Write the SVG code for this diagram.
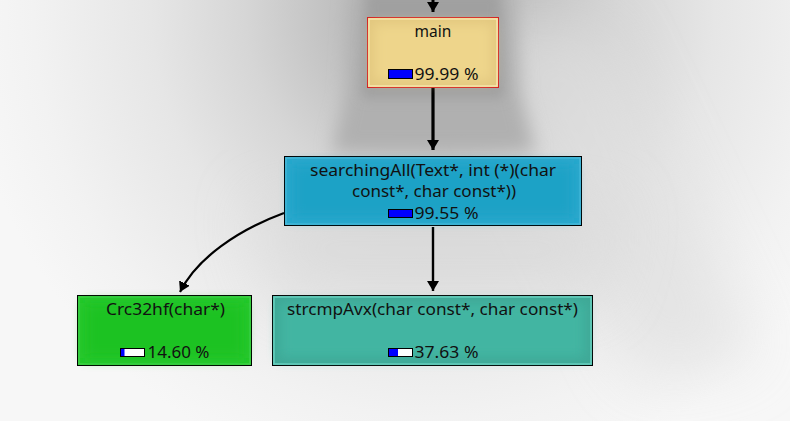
<svg xmlns="http://www.w3.org/2000/svg" width="790" height="421" viewBox="0 0 790 421">
<defs>
<radialGradient id="bg" cx="433" cy="10" r="470" gradientUnits="userSpaceOnUse" gradientTransform="translate(433 10) scale(1 1.02) translate(-433 -10)">
<stop offset="0" stop-color="#a6a6a6"/>
<stop offset="0.2" stop-color="#bfbfbf"/>
<stop offset="0.4" stop-color="#d6d6d6"/>
<stop offset="0.6" stop-color="#e6e6e6"/>
<stop offset="0.85" stop-color="#f2f2f2"/>
<stop offset="1" stop-color="#f7f7f7"/>
</radialGradient>
<filter id="blurL" x="-50%" y="-50%" width="200%" height="200%"><feGaussianBlur stdDeviation="30"/></filter>
<filter id="blurM" x="-50%" y="-50%" width="200%" height="200%"><feGaussianBlur stdDeviation="9"/></filter>
<filter id="blurS" x="-50%" y="-50%" width="200%" height="200%"><feGaussianBlur stdDeviation="6"/></filter>
<marker id="ah" viewBox="0 0 10 12" refX="10" refY="6" markerWidth="10" markerHeight="12" markerUnits="userSpaceOnUse" orient="auto">
<path d="M0,0 L10,6 L0,12 z" fill="#000"/>
</marker>
</defs>
<style>
.t{font-family:"Noto Sans","DejaVu Sans",sans-serif;font-size:15.5px;fill:#111;}
.bar{stroke:#000;stroke-width:1;}
.e{stroke:#000;fill:none;}
</style>
<rect width="790" height="421" fill="#f7f7f7"/>
<rect width="790" height="421" fill="url(#bg)"/>
<polygon points="460,20 600,20 760,360 640,380" fill="#e0e0e0" opacity="0.7" filter="url(#blurL)"/>
<polygon points="250,200 620,200 600,300 280,300" fill="#d8d8d8" opacity="0.6" filter="url(#blurL)"/>
<polygon points="352,-10 514,-10 520,95 535,152 332,152 346,95" fill="#b0b0b0" filter="url(#blurM)"/>
<polygon points="366,-10 500,-10 504,98 362,98" fill="#a0a0a0" filter="url(#blurS)"/>

<g id="connectors">
<line class="e" x1="433" y1="-2" x2="433" y2="12" stroke-width="3" marker-end="url(#ah)"/>
<line class="e" x1="433" y1="88" x2="433" y2="150" stroke-width="3.2" marker-end="url(#ah)"/>
<line class="e" x1="433" y1="227" x2="433" y2="291" stroke-width="2.4" marker-end="url(#ah)"/>
<path class="e" d="M284,213 C238,230 197,258 180,292" stroke-width="2.2" marker-end="url(#ah)"/>
</g>

<g id="node-main">
<rect x="367.5" y="17.5" width="131" height="70" fill="#e2c77f" stroke="#d42020" stroke-width="1"/>
<rect x="369" y="19" width="128" height="67" fill="none" stroke="#f8e7b0" stroke-width="1.5"/>
<rect x="374" y="24" width="118" height="57" fill="#eed58b" filter="url(#blurS)"/>
<text class="t" x="433" y="37" text-anchor="middle">main</text>
<rect class="bar" x="388.5" y="69.5" width="24" height="9" fill="#0000ff"/>
<text class="t" x="414.5" y="80" textLength="64" lengthAdjust="spacingAndGlyphs">99.99 %</text>
</g>

<g id="node-searchingAll">
<rect x="284.5" y="156.5" width="297" height="69" fill="#2aa8cd" stroke="#000" stroke-width="1"/>
<rect x="286" y="158" width="294" height="66" fill="none" stroke="#4bb8d8" stroke-width="1.5"/>
<rect x="292" y="164" width="282" height="54" fill="#1fa2c6" filter="url(#blurS)"/>
<text class="t" x="310" y="176" textLength="246" lengthAdjust="spacingAndGlyphs">searchingAll(Text*, int (*)(char</text>
<text class="t" x="352" y="197" textLength="164" lengthAdjust="spacingAndGlyphs">const*, char const*))</text>
<rect class="bar" x="388.5" y="209.5" width="24" height="8" fill="#0000ff"/>
<text class="t" x="414.5" y="219" textLength="64" lengthAdjust="spacingAndGlyphs">99.55 %</text>
</g>

<g id="node-crc32hf">
<rect x="77.5" y="295.5" width="174" height="70" fill="#25c82c" stroke="#000" stroke-width="1"/>
<rect x="79" y="297" width="171" height="67" fill="none" stroke="#40d048" stroke-width="1.5"/>
<rect x="85" y="303" width="159" height="55" fill="#1bc223" filter="url(#blurS)"/>
<text class="t" x="106" y="315" textLength="119" lengthAdjust="spacingAndGlyphs">Crc32hf(char*)</text>
<rect class="bar" x="120.5" y="348.5" width="24" height="8" fill="#fff"/>
<rect x="121" y="349" width="3.5" height="7" fill="#0000ff"/>
<text class="t" x="147.5" y="358" textLength="62" lengthAdjust="spacingAndGlyphs">14.60 %</text>
</g>

<g id="node-strcmpAvx">
<rect x="272.5" y="295.5" width="320" height="70" fill="#3ea896" stroke="#000" stroke-width="1"/>
<rect x="274" y="297" width="317" height="67" fill="none" stroke="#6cd2c2" stroke-width="1.5"/>
<rect x="280" y="303" width="305" height="55" fill="#42b5a2" filter="url(#blurS)"/>
<text class="t" x="287" y="315" textLength="291" lengthAdjust="spacingAndGlyphs">strcmpAvx(char const*, char const*)</text>
<rect class="bar" x="388.5" y="348.5" width="24" height="8" fill="#fff"/>
<rect x="389" y="349" width="9" height="7" fill="#0000ff"/>
<text class="t" x="414.5" y="358" textLength="64" lengthAdjust="spacingAndGlyphs">37.63 %</text>
</g>
</svg>
